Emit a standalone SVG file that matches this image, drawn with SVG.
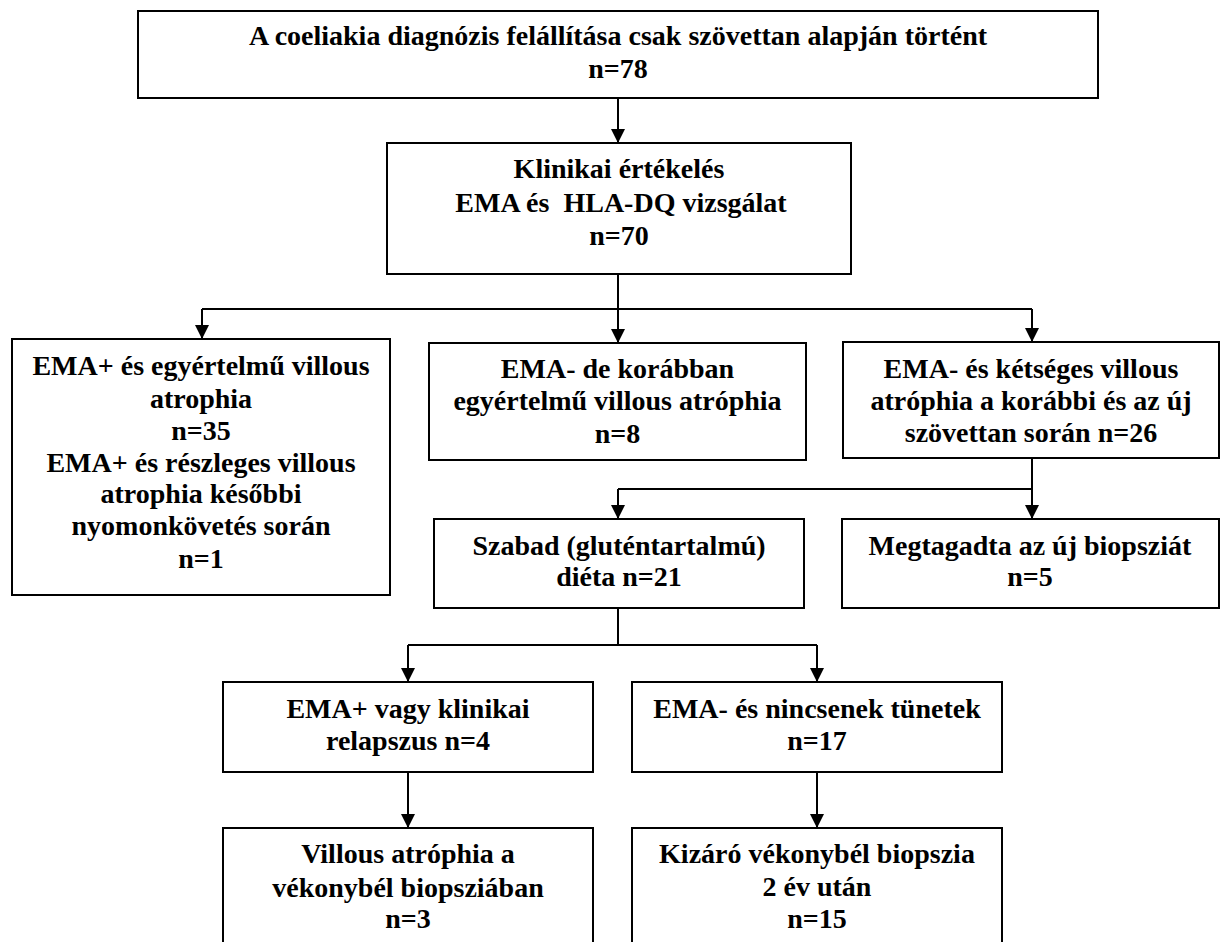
<svg xmlns="http://www.w3.org/2000/svg" width="1220" height="942" viewBox="0 0 1220 942">
<defs>
<style>
.box{fill:#fff;stroke:#000;stroke-width:2}
.ln{fill:none;stroke:#000;stroke-width:2}
.t{font-family:"Liberation Serif","Times New Roman",serif;font-weight:bold;font-size:28px;fill:#000;text-anchor:middle}
</style>
<marker id="ah" markerUnits="userSpaceOnUse" markerWidth="16" markerHeight="16" refX="14" refY="7" orient="auto">
<path d="M0,0 L14,7 L0,14 Z" fill="#000"/>
</marker>
</defs>
<rect width="1220" height="942" fill="#fff"/>
<g id="connectors">
<path class="ln" d="M618,98 V143" marker-end="url(#ah)"/>
<path class="ln" d="M618,274 V309"/>
<path class="ln" d="M202,309 H1032"/>
<path class="ln" d="M202,309 V339" marker-end="url(#ah)"/>
<path class="ln" d="M618,309 V343" marker-end="url(#ah)"/>
<path class="ln" d="M1032,309 V342" marker-end="url(#ah)"/>
<path class="ln" d="M1032,458 V519" marker-end="url(#ah)"/>
<path class="ln" d="M618,489 H1032"/>
<path class="ln" d="M618,489 V519" marker-end="url(#ah)"/>
<path class="ln" d="M618,608 V645"/>
<path class="ln" d="M408,645 H817"/>
<path class="ln" d="M408,645 V682" marker-end="url(#ah)"/>
<path class="ln" d="M817,645 V682" marker-end="url(#ah)"/>
<path class="ln" d="M408,772 V828" marker-end="url(#ah)"/>
<path class="ln" d="M817,772 V828" marker-end="url(#ah)"/>
</g>
<g id="n1">
<rect class="box" x="138" y="11" width="960" height="87"/>
<text class="t" x="618" y="45">A coeliakia diagnózis felállítása csak szövettan alapján történt</text>
<text class="t" x="618" y="78">n=78</text>
</g>
<g id="n2">
<rect class="box" x="387" y="143" width="464" height="131"/>
<text class="t" x="619" y="178">Klinikai értékelés</text>
<text class="t" x="621" y="212" xml:space="preserve">EMA és  HLA-DQ vizsgálat</text>
<text class="t" x="619" y="245">n=70</text>
</g>
<g id="n3">
<rect class="box" x="12" y="339" width="378" height="256"/>
<text class="t" x="201" y="375">EMA+ és egyértelmű villous</text>
<text class="t" x="201" y="408">atrophia</text>
<text class="t" x="201" y="440">n=35</text>
<text class="t" x="201" y="472">EMA+ és részleges villous</text>
<text class="t" x="201" y="503">atrophia későbbi</text>
<text class="t" x="201" y="535">nyomonkövetés során</text>
<text class="t" x="201" y="568">n=1</text>
</g>
<g id="n4">
<rect class="box" x="429" y="343" width="377" height="117"/>
<text class="t" x="617.5" y="378">EMA- de korábban</text>
<text class="t" x="617.5" y="410">egyértelmű villous atróphia</text>
<text class="t" x="617.5" y="443">n=8</text>
</g>
<g id="n5">
<rect class="box" x="843" y="342" width="376" height="116"/>
<text class="t" x="1031" y="378">EMA- és kétséges villous</text>
<text class="t" x="1031" y="410">atróphia a korábbi és az új</text>
<text class="t" x="1031" y="442">szövettan során n=26</text>
</g>
<g id="n6">
<rect class="box" x="434" y="519" width="370" height="89"/>
<text class="t" x="619" y="555">Szabad (gluténtartalmú)</text>
<text class="t" x="619" y="586">diéta n=21</text>
</g>
<g id="n7">
<rect class="box" x="842" y="519" width="377" height="89"/>
<text class="t" x="1030" y="555">Megtagadta az új biopsziát</text>
<text class="t" x="1030" y="586">n=5</text>
</g>
<g id="n8">
<rect class="box" x="223" y="682" width="370" height="90"/>
<text class="t" x="408" y="718">EMA+ vagy klinikai</text>
<text class="t" x="408" y="750">relapszus n=4</text>
</g>
<g id="n9">
<rect class="box" x="632" y="682" width="370" height="90"/>
<text class="t" x="817" y="718">EMA- és nincsenek tünetek</text>
<text class="t" x="817" y="750">n=17</text>
</g>
<g id="n10">
<rect class="box" x="223" y="828" width="370" height="130"/>
<text class="t" x="408" y="863">Villous atróphia a</text>
<text class="t" x="408" y="897">vékonybél biopsziában</text>
<text class="t" x="408" y="928">n=3</text>
</g>
<g id="n11">
<rect class="box" x="632" y="828" width="370" height="130"/>
<text class="t" x="817" y="863">Kizáró vékonybél biopszia</text>
<text class="t" x="817" y="896">2 év után</text>
<text class="t" x="817" y="928">n=15</text>
</g>
</svg>
